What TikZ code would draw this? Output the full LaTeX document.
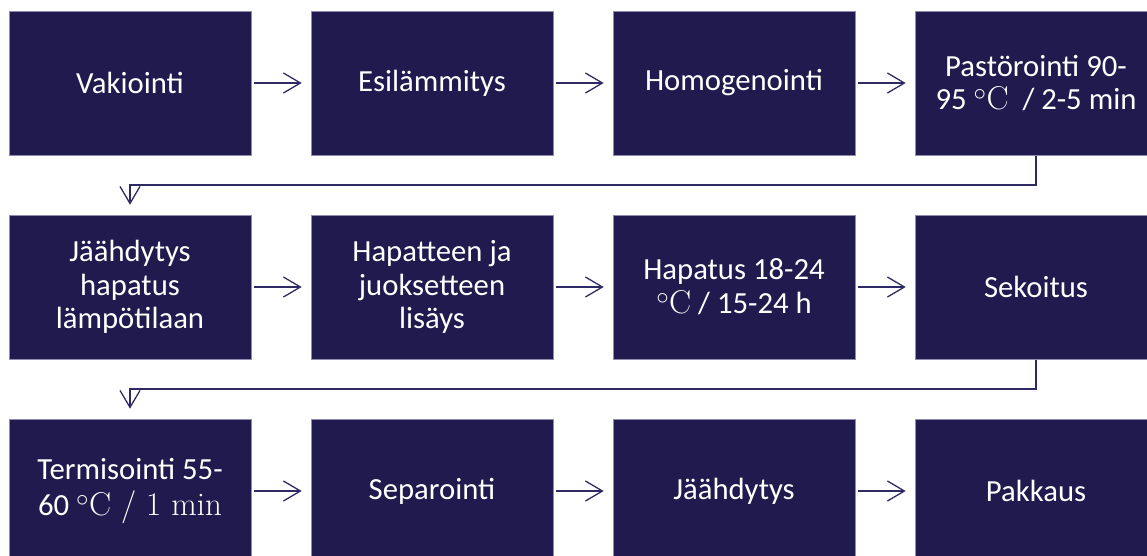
\documentclass[tikz,border=0pt]{standalone}
\usepackage{fontspec}
\setsansfont{Carlito}
\usetikzlibrary{arrows.meta}
\definecolor{boxfill}{HTML}{211A4E}
\definecolor{boxedge}{HTML}{8E8AB0}
\definecolor{conn}{HTML}{2E2A64}
\tikzset{
  stepbox/.style={rectangle, fill=boxfill, draw=boxedge, line width=0.6pt,
    minimum width=242pt, minimum height=144pt, inner sep=0pt, align=center,
    text=white, font=\sffamily\fontsize{30.7}{33.7}\selectfont},
  flow/.style={draw=conn, line width=1.3pt,
    -{Straight Barb[length=17pt,width=20pt,line width=1.3pt]}},
  hflow/.style={flow, shorten <=3pt, shorten >=9pt},
  vflow/.style={flow, shorten <=1pt, shorten >=10pt}
}
\newcommand{\degC}{{\rmfamily\fontsize{33}{33.7}\selectfont$^{\circ}$C}}
\begin{document}
\begin{tikzpicture}[x=1pt,y=-1pt]
\useasboundingbox (0,0) rectangle (1147,555);
\node[stepbox] (b1) at (130,83) {Vakiointi};
\node[stepbox] (b2) at (432,83) {Esilämmitys};
\node[stepbox] (b3) at (734,83) {Homogenointi};
\node[stepbox] (b4) at (1036,83) {Pastörointi 90-\\95 \degC\ \ / 2-5 min};
\node[stepbox] (b5) at (130,287) {Jäähdytys\\hapatus\\lämpötilaan};
\node[stepbox] (b6) at (432,287) {Hapatteen ja\\juoksetteen\\lisäys};
\node[stepbox] (b7) at (734,287) {Hapatus 18-24\\\degC\ / 15-24 h};
\node[stepbox] (b8) at (1036,287) {Sekoitus};
\node[stepbox] (b9) at (130,491) {Termisointi 55-\\[3pt]60 {\rmfamily\fontsize{33}{33.7}\selectfont$^{\circ}$C / 1 min}};
\node[stepbox] (b10) at (432,491) {Separointi};
\node[stepbox] (b11) at (734,491) {Jäähdytys};
\node[stepbox] (b12) at (1036,491) {Pakkaus};
\coordinate (m1) at (583,185);
\coordinate (m2) at (583,389);
\draw[hflow] (b1.east) -- (b2.west);
\draw[hflow] (b2.east) -- (b3.west);
\draw[hflow] (b3.east) -- (b4.west);
\draw[vflow] (b4.south) |- (m1) -| (b5.north);
\draw[hflow] (b5.east) -- (b6.west);
\draw[hflow] (b6.east) -- (b7.west);
\draw[hflow] (b7.east) -- (b8.west);
\draw[vflow] (b8.south) |- (m2) -| (b9.north);
\draw[hflow] (b9.east) -- (b10.west);
\draw[hflow] (b10.east) -- (b11.west);
\draw[hflow] (b11.east) -- (b12.west);
\end{tikzpicture}
\end{document}
